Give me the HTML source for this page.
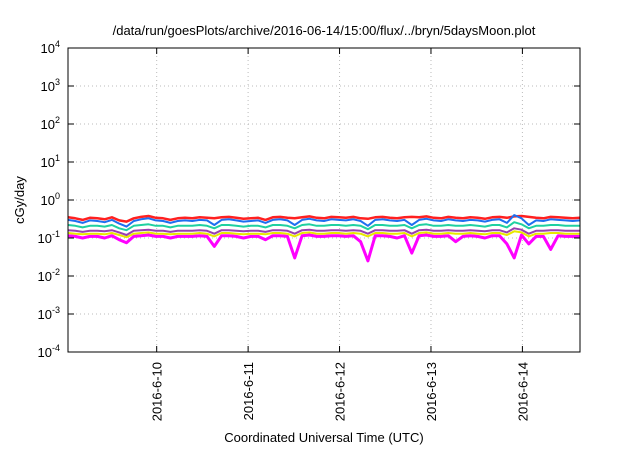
<!DOCTYPE html>
<html><head><meta charset="utf-8"><style>
body{margin:0;background:#fff;font-family:"Liberation Sans",sans-serif}
svg text{font-family:"Liberation Sans",sans-serif;fill:#000}
</style></head><body>
<svg id="chart" width="640" height="448" viewBox="0 0 640 448">
<text x="324" y="35" font-size="13" text-anchor="middle">/data/run/goesPlots/archive/2016-06-14/15:00/flux/../bryn/5daysMoon.plot</text>
<g id="grid"></g><g id="series"></g><g id="axes"></g>
<text transform="translate(24,200) rotate(-90)" font-size="13" text-anchor="middle">cGy/day</text>
<text x="324" y="442" font-size="13" text-anchor="middle">Coordinated Universal Time (UTC)</text>
</svg>
<script>
const xTickLabels=["2016-6-10","2016-6-11","2016-6-12","2016-6-13","2016-6-14"];
const xTickDays=[0,1,2,3,4];
const yTickExps=[-4,-3,-2,-1,0,1,2,3,4];
const tStart=-0.97, tStep=0.08;
const red=[.35,.33,.30,.34,.33,.31,.35,.29,.27,.33,.36,.38,.34,.33,.30,.33,.34,.33,.35,.34,.33,.35,.36,.34,.32,.33,.34,.30,.35,.36,.34,.33,.35,.37,.34,.33,.36,.35,.34,.36,.33,.32,.35,.36,.34,.33,.35,.36,.35,.37,.34,.33,.36,.34,.33,.35,.34,.32,.35,.36,.34,.37,.38,.36,.34,.33,.36,.35,.34,.33,.34];
const blue=[.30,.28,.25,.29,.28,.26,.30,.24,.20,.28,.31,.33,.29,.28,.25,.28,.29,.28,.30,.29,.22,.30,.31,.29,.27,.28,.29,.25,.30,.31,.29,.22,.30,.32,.29,.28,.31,.30,.29,.31,.28,.21,.30,.31,.29,.28,.30,.22,.30,.32,.29,.28,.31,.29,.28,.30,.29,.27,.30,.31,.25,.40,.33,.22,.29,.28,.31,.30,.29,.28,.29];
const teal=[.22,.21,.19,.21,.21,.20,.22,.18,.16,.21,.22,.23,.21,.21,.19,.21,.21,.21,.22,.21,.18,.22,.22,.21,.20,.21,.21,.19,.22,.22,.21,.18,.22,.23,.21,.21,.22,.22,.21,.22,.21,.17,.22,.22,.21,.21,.22,.18,.22,.23,.21,.21,.22,.21,.21,.22,.21,.20,.22,.22,.19,.26,.23,.18,.21,.21,.22,.22,.21,.21,.21];
const purple=[.16,.155,.145,.155,.155,.15,.16,.14,.12,.155,.16,.165,.155,.155,.145,.155,.155,.155,.16,.155,.13,.16,.16,.155,.15,.155,.155,.145,.16,.16,.155,.13,.16,.165,.155,.155,.16,.16,.155,.16,.155,.13,.16,.16,.155,.155,.16,.13,.16,.165,.155,.155,.16,.155,.155,.16,.155,.15,.16,.16,.14,.18,.165,.13,.155,.155,.16,.16,.155,.155,.155];
const yellow=[.135,.13,.125,.13,.13,.125,.135,.12,.105,.13,.135,.14,.13,.13,.125,.13,.13,.13,.135,.13,.11,.135,.135,.13,.125,.13,.13,.125,.135,.135,.13,.11,.135,.14,.13,.13,.135,.135,.13,.135,.13,.11,.135,.135,.13,.13,.135,.11,.135,.14,.13,.13,.135,.13,.13,.135,.13,.125,.135,.135,.12,.15,.14,.11,.13,.13,.135,.135,.13,.13,.13];
const magenta=[.115,.11,.10,.11,.11,.10,.115,.09,.075,.11,.115,.12,.11,.11,.10,.11,.11,.11,.115,.11,.06,.115,.115,.11,.10,.11,.11,.09,.115,.115,.11,.03,.115,.12,.11,.11,.115,.115,.11,.115,.08,.025,.115,.115,.11,.10,.115,.04,.115,.12,.11,.11,.115,.08,.11,.115,.11,.10,.115,.115,.07,.03,.12,.07,.11,.11,.05,.115,.11,.11,.11];
const L=68,R=580,T=48,B=352;
const xS=d=>L+(d-tStart)/(5.6)*(R-L);
const yS=v=>B-(Math.log10(v)+4)/8*(B-T);
const NS="http://www.w3.org/2000/svg";
const grid=document.getElementById('grid'),axes=document.getElementById('axes'),ser=document.getElementById('series');
function mk(tag,attrs,parent){const e=document.createElementNS(NS,tag);for(const k in attrs)e.setAttribute(k,attrs[k]);parent.appendChild(e);return e;}
yTickExps.forEach(e=>{const y=yS(Math.pow(10,e));
 if(e>-4&&e<4){const g=mk('line',{x1:L,x2:R,y1:y,y2:y,stroke:'#bbb','stroke-dasharray':'1,3'},grid);
 
 }
 const t=mk('text',{x:L-8,y:y+5,'font-size':13,'text-anchor':'end'},axes);
 
 
 t.innerHTML='10<tspan dy="-6" font-size="9">'+e+'</tspan>';
 mk('line',{x1:L,x2:L+6,y1:y,y2:y,stroke:'#000'},axes);mk('line',{x1:R,x2:R-6,y1:y,y2:y,stroke:'#000'},axes);
});
xTickDays.forEach((d,i)=>{const x=xS(d);
 const g=mk('line',{x1:x,x2:x,y1:T,y2:B,stroke:'#bbb','stroke-dasharray':'1,3'},grid);
 
 
 mk('line',{x1:x,x2:x,y1:B,y2:B-6,stroke:'#000'},axes);mk('line',{x1:x,x2:x,y1:T,y2:T+6,stroke:'#000'},axes);
 const t=mk('text',{transform:`translate(${x+5},${B+10}) rotate(-90)`,'font-size':13,'text-anchor':'end'},axes);
 
 
 t.textContent=xTickLabels[i];
});
const fr=mk('rect',{x:L,y:T,width:R-L,height:B-T,fill:'none',stroke:'#000','stroke-width':1},axes);


const seriesList=[[magenta,'#ff00ff',3,'series-magenta'],[yellow,'#e8e800',2,'series-yellow'],[purple,'#9a3fb0',2,'series-purple'],[teal,'#20d0a0',2,'series-teal'],[red,'#ff2020',2.5,'series-red'],[blue,'#1e6ff0',2,'series-blue']];
seriesList.forEach(([arr,c,w,n])=>{
 const pts=arr.map((v,i)=>xS(tStart+i*tStep).toFixed(1)+','+yS(v).toFixed(1)).join(' ');
 const p=mk('polyline',{points:pts,fill:'none',stroke:c,'stroke-width':w,'stroke-linejoin':'round'},ser);
 
 
});
</script>
</body></html>
